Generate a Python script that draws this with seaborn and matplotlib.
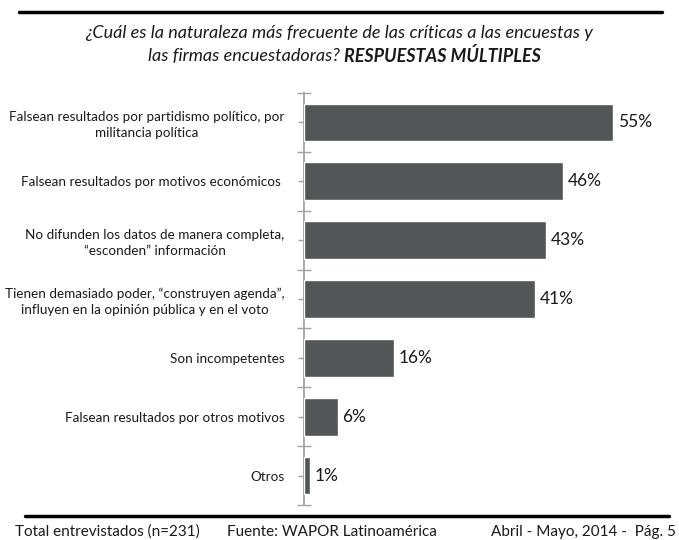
import matplotlib
matplotlib.use("Agg")
import matplotlib.pyplot as plt
import seaborn as sns
import pandas as pd
import numpy as np

categories = [
    "Falsean resultados por partidismo político, por\nmilitancia política",
    "Falsean resultados por motivos económicos ",
    "No difunden los datos de manera completa,\n“esconden” información",
    "Tienen demasiado poder, “construyen agenda”,\ninfluyen en la opinión pública y en el voto",
    "Son incompetentes",
    "Falsean resultados por otros motivos",
    "Otros",
]
values = [55, 46, 43, 41, 16, 6, 1]
value_labels = ["55%", "46%", "43%", "41%", "16%", "6%", "1%"]

title_line1 = "¿Cuál es la naturaleza más frecuente de las críticas a las encuestas y"
title_line2a = "las firmas encuestadoras? "
title_line2b = "RESPUESTAS MÚLTIPLES"
footer_left = "Total entrevistados (n=231)"
footer_mid = "Fuente: WAPOR Latinoamérica"
footer_right = "Abril - Mayo, 2014 -  Pág. 5"

sns.set_style("white")
plt.rcParams["font.family"] = ["Lato", "DejaVu Sans"]

W, H = 679, 540
fig = plt.figure(figsize=(W / 100, H / 100), dpi=100)
ax = fig.add_axes([304 / W, 1 - 505 / H, (665 - 304) / W, (505 - 93) / H])

df = pd.DataFrame({"cat": categories, "val": values})
sns.barplot(data=df, y="cat", x="val", orient="h", color="#535657",
            saturation=1, width=0.64, ax=ax)

ax.set_xlim(0, 64.2)
ax.set_ylim(len(categories) - 0.5, -0.5)
ax.set_xlabel("")
ax.set_ylabel("")
ax.set_xticks([])
for s in ["top", "right", "bottom"]:
    ax.spines[s].set_visible(False)
ax.spines["left"].set_color("#a3a3a3")
ax.spines["left"].set_linewidth(1.3)
ax.spines["left"].set_zorder(0.5)

ax.set_yticks(range(len(categories)))
ax.set_yticklabels(categories, fontsize=9.7, color="#1a1a1a", multialignment="center",
                   linespacing=1.4)
ax.tick_params(axis="y", which="major", left=True, direction="out", length=4,
               color="#a3a3a3", width=1, pad=10)
ax.set_yticks(np.arange(-0.5, len(categories), 1.0), minor=True)
ax.tick_params(axis="y", which="minor", left=True, direction="inout", length=10,
               color="#a3a3a3", width=1)

for i, (v, lab) in enumerate(zip(values, value_labels)):
    ax.annotate(lab, xy=(v, i), xytext=(3.5, 0), textcoords="offset points",
                ha="left", va="center", fontsize=12.5, color="#1a1a1a")

# decorative lines
fig.add_artist(plt.Line2D([19 / W, 662 / W], [1 - 12 / H, 1 - 12 / H],
                          color="black", lw=2.5, transform=fig.transFigure))
fig.add_artist(plt.Line2D([25 / W, 669 / W], [1 - 516 / H, 1 - 516 / H],
                          color="black", lw=2.5, transform=fig.transFigure))

# title
fig.text(339 / W, 1 - 33 / H, title_line1, ha="center", va="center",
         fontsize=13, style="italic", color="#1a1a1a")
fig.canvas.draw()
r = fig.canvas.get_renderer()
ta = fig.text(0, 1 - 56 / H, title_line2a, ha="left", va="center",
              fontsize=13, style="italic", color="#1a1a1a")
tb = fig.text(0, 1 - 56 / H, title_line2b, ha="left", va="center",
              fontsize=13, style="italic", weight="bold", color="#1a1a1a")
wa = ta.get_window_extent(r).width
wb = tb.get_window_extent(r).width
start = 344 - (wa + wb) / 2
ta.set_x(start / W)
tb.set_x((start + wa) / W)

# footer
fy = 1 - 532 / H
fig.text(15 / W, fy, footer_left, ha="left", va="center", fontsize=11, color="#1a1a1a")
fig.text(227 / W, fy, footer_mid, ha="left", va="center", fontsize=11, color="#1a1a1a")
fig.text(676 / W, fy, footer_right, ha="right", va="center", fontsize=11, color="#1a1a1a")

fig.savefig("out.png", dpi=100)
